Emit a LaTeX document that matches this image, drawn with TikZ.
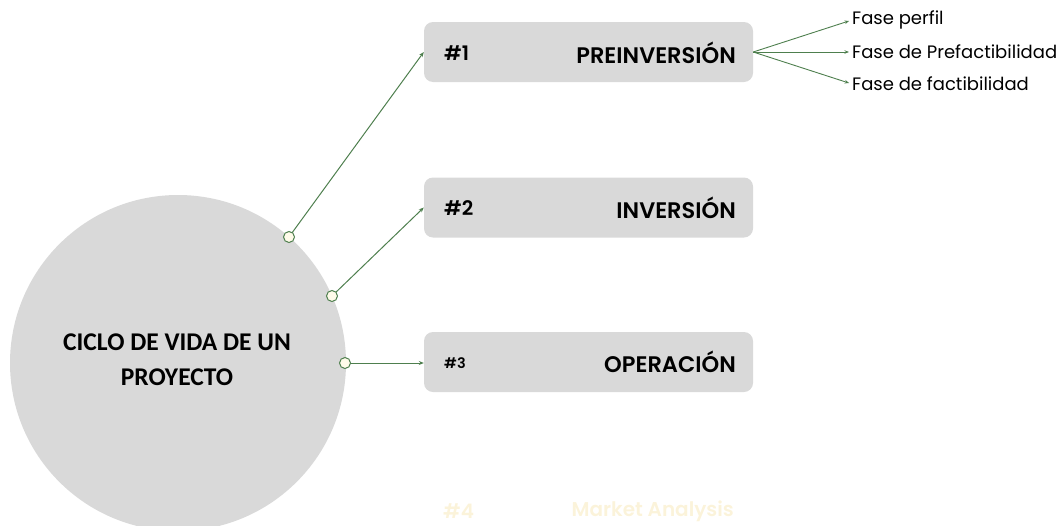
\documentclass[tikz,border=0pt]{standalone}
\usepackage{fontspec}
\setmainfont{Poppins}
\newfontfamily\semib{Poppins}[UprightFont=* SemiBold]
\newfontfamily\calib{Carlito}
\usetikzlibrary{arrows.meta}
\definecolor{boxgray}{HTML}{D9D9D9}
\definecolor{lgreen}{HTML}{4E7F4E}
\definecolor{cream}{HTML}{FFFBEA}
\definecolor{pale}{HTML}{FBF3DA}
\tikzset{
  x=1pt,y=-1pt,
  phase/.style={fill=boxgray,rounded corners=9pt,minimum width=329pt,minimum height=60pt,inner sep=0pt},
  num/.style={font=\semib\fontsize{20}{24}\selectfont,anchor=west,inner sep=0pt},
  title/.style={font=\semib\fontsize{22.5}{26}\selectfont,anchor=east,inner sep=0pt},
  conn/.style={draw=lgreen,line width=1pt,-{Stealth[length=5pt,width=4pt]}},
  dot/.style={circle,draw=lgreen,fill=cream,line width=1pt,inner sep=0pt,minimum size=11pt},
  sub/.style={font=\fontsize{18}{20}\selectfont,anchor=west,inner sep=0pt},
  subc/.style={draw=lgreen,line width=0.9pt,shorten >=3pt,-{Stealth[length=4.5pt,width=3.5pt]}}
}
\begin{document}
\begin{tikzpicture}
\useasboundingbox (0,0) rectangle (1060,525);
\begin{scope}
\clip (0,0) rectangle (1060,525);
\node[circle,fill=boxgray,minimum size=336pt,inner sep=0pt] (c) at (178,363) {};
\end{scope}
\node[font=\calib\fontsize{25.5}{35}\selectfont\bfseries,align=center] (ct) at (177,360) {CICLO DE VIDA DE UN\\PROYECTO};

\node[phase] (b1) at (588.5,52) {};
\node[phase] (b2) at (588.5,207.5) {};
\node[phase] (b3) at (588.5,362) {};

\node[num] (n1) at (444,53) {\#1};
\node[title] (t1) at (736,53) {PREINVERSIÓN};
\node[num] (n2) at (444,208) {\#2};
\node[title] (t2) at (736,208) {INVERSIÓN};
\node[num,font=\semib\fontsize{14.5}{16}\selectfont] (n3) at (444,363) {\#3};
\node[title] (t3) at (736,362) {OPERACIÓN};

\node[num,text=pale] (n4) at (443,511) {\#4};
\node[title,text=pale,font=\semib\fontsize{20}{24}\selectfont] (t4) at (734,511) {Market Analysis};

\coordinate (p1) at (289,237);
\coordinate (p2) at (332,296);
\coordinate (p3) at (345,363);
\draw[conn] (p1) -- (b1.west);
\draw[conn] (p2) -- (b2.west);
\draw[conn] (p3) -- (b3.west |- p3);
\node[dot] (d1) at (p1) {};
\node[dot] (d2) at (p2) {};
\node[dot] (d3) at (p3) {};

\node[sub] (s1) at (852,20) {Fase perfil};
\node[sub] (s2) at (852,52) {Fase de Prefactibilidad};
\node[sub] (s3) at (852,84) {Fase de factibilidad};
\draw[subc] (b1.east) -- (s1.west);
\draw[subc] (b1.east) -- (s2.west);
\draw[subc] (b1.east) -- (s3.west);
\end{tikzpicture}
\end{document}
